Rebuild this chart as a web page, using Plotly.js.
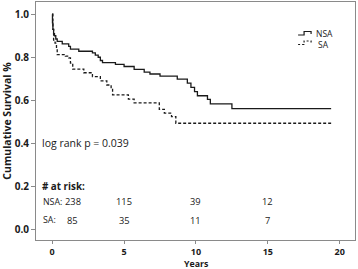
<!DOCTYPE html>
<html>
<head>
<meta charset="utf-8">
<script src="https://cdn.plot.ly/plotly-3.0.1.min.js"></script>
<style>html,body{margin:0;padding:0;background:#fff;}#chart{width:358px;height:269px;}</style>
</head>
<body>
<div id="chart"></div>
<script>
// Kaplan-Meier estimates
const nsaTime = [0,0.02,0.05,0.1,0.16,0.25,0.35,0.7,1.15,1.27,1.85,2.8,3.0,3.2,3.35,3.5,4.4,5.0,5.7,6.4,6.8,7.5,8.7,9.4,9.65,9.9,10.1,10.8,11.0,12.5,19.4];
const nsaSurv = [1.0,0.96,0.93,0.91,0.90,0.885,0.874,0.862,0.851,0.838,0.828,0.82,0.81,0.80,0.785,0.775,0.767,0.757,0.744,0.731,0.722,0.712,0.698,0.68,0.66,0.64,0.621,0.604,0.583,0.561,0.561];
const saTime = [0,0.05,0.1,0.2,0.3,0.35,0.92,1.15,1.27,1.43,2.2,2.8,3.35,3.8,4.1,4.2,5.3,5.7,7.45,7.8,8.3,8.6,19.4];
const saSurv = [1.0,0.93,0.88,0.866,0.84,0.812,0.805,0.797,0.773,0.745,0.728,0.710,0.69,0.671,0.65,0.625,0.605,0.588,0.558,0.54,0.524,0.493,0.493];

const seriesNames = ["NSA","SA"];
const riskTimes = [0,5,10,15];
const nsaRisk = [238,115,39,12];
const saRisk = [85,35,11,7];
const xTicks = [0,5,10,15,20];
const yTicks = [0.0,0.2,0.4,0.6,0.8,1.0];
const yTickText = ["0.0","0.2","0.4","0.6","0.8","1.0"];
const pValueText = "log rank p = 0.039";
const xTitle = "Years";
const yTitle = "Cumulative Survival %";

const FONT = "Open Sans, Liberation Sans, Arial, sans-serif";
const INK = "#1a1a1a";
const W = 358, H = 269;
const M = {l:35.5, r:3, t:2, b:29};
const pw = W - M.l - M.r, ph = H - M.t - M.b;
const px = x => (x - M.l) / pw;
const py = y => (H - M.b - y) / ph;

const traces = [
  {x: nsaTime, y: nsaSurv, name: seriesNames[0], type: 'scatter', mode: 'lines',
   line: {shape: 'hv', color: INK, width: 1.3}},
  {x: saTime, y: saSurv, name: seriesNames[1], type: 'scatter', mode: 'lines',
   line: {shape: 'hv', color: INK, width: 1.3, dash: '3px,2px'}}
];

const annotations = [];
annotations.push({x: 0, y: 0.40, xref: 'x', yref: 'y', xshift: -12, text: pValueText,
  showarrow: false, xanchor: 'left', yanchor: 'middle', font: {family: FONT, size: 10.5, color: INK}});
annotations.push({x: 0, y: 0.20, xref: 'x', yref: 'y', xshift: -12, text: '<b># at risk:</b>',
  showarrow: false, xanchor: 'left', yanchor: 'middle', font: {family: FONT, size: 9.8, color: INK}});
const rows = [[seriesNames[0] + ':', nsaRisk, 0.128], [seriesNames[1] + ':', saRisk, 0.043]];
rows.forEach(r => {
  annotations.push({x: 0, y: r[2], xref: 'x', yref: 'y', xshift: -11, text: r[0],
    showarrow: false, xanchor: 'left', yanchor: 'middle', font: {family: FONT, size: 8.8, color: INK}});
  riskTimes.forEach((t, i) => {
    annotations.push({x: t, y: r[2], xref: 'x', yref: 'y', xshift: i === 0 ? 20.5 : 0, text: String(r[1][i]),
      showarrow: false, xanchor: 'center', yanchor: 'middle', font: {family: FONT, size: 9.3, color: INK}});
  });
});
// x axis title
annotations.push({x: px(196), y: py(263.8), xref: 'paper', yref: 'paper', text: '<b>' + xTitle + '</b>',
  showarrow: false, xanchor: 'center', yanchor: 'middle', borderpad: 0, font: {family: FONT, size: 8.8, color: INK}});
// legend labels
annotations.push({x: px(314), y: py(33.5), xref: 'paper', yref: 'paper', text: seriesNames[0],
  showarrow: false, xanchor: 'left', yanchor: 'middle', font: {family: FONT, size: 8.5, color: INK}});
annotations.push({x: px(316), y: py(44.5), xref: 'paper', yref: 'paper', text: seriesNames[1],
  showarrow: false, xanchor: 'left', yanchor: 'middle', font: {family: FONT, size: 8.5, color: INK}});

function stepPath(x0, yLow, yHigh) {
  const pts = [[x0, yLow], [x0 + 6, yLow], [x0 + 6, yHigh], [x0 + 13, yHigh], [x0 + 13, yHigh + 2.5]];
  return pts.map((p, i) => (i ? 'L' : 'M') + px(p[0]).toFixed(4) + ',' + py(p[1]).toFixed(4)).join(' ');
}
const shapes = [
  {type: 'path', xref: 'paper', yref: 'paper', path: stepPath(298, 35, 31.5), line: {color: INK, width: 1.2}},
  {type: 'path', xref: 'paper', yref: 'paper', path: stepPath(298, 44.5, 41), line: {color: INK, width: 1.2, dash: '2px,2px'}}
];

const axisCommon = {
  showgrid: false, zeroline: false, showline: true, mirror: true,
  linecolor: '#8a8a8a', linewidth: 1, ticks: 'outside', ticklen: 4, tickwidth: 1, tickcolor: '#8a8a8a',
  tickfont: {family: FONT, size: 10, color: INK, weight: 'bold'}
};

const layout = {
  width: W, height: H, margin: M, paper_bgcolor: '#fff', plot_bgcolor: '#fff',
  showlegend: false,
  xaxis: Object.assign({}, axisCommon, {range: [-1.125, 21.06], tickvals: xTicks, ticktext: xTicks.map(String),
    ticklen: 3, tickfont: {family: FONT, size: 9, color: INK, weight: 'bold'}}),
  yaxis: Object.assign({}, axisCommon, {range: [-0.05, 1.057], tickvals: yTicks, ticktext: yTickText,
    title: {text: '<b>' + yTitle + '</b>', font: {family: FONT, size: 10.5, color: INK}, standoff: 4}}),
  annotations: annotations, shapes: shapes
};

Plotly.newPlot('chart', traces, layout, {displayModeBar: false, staticPlot: true});
</script>
</body>
</html>
